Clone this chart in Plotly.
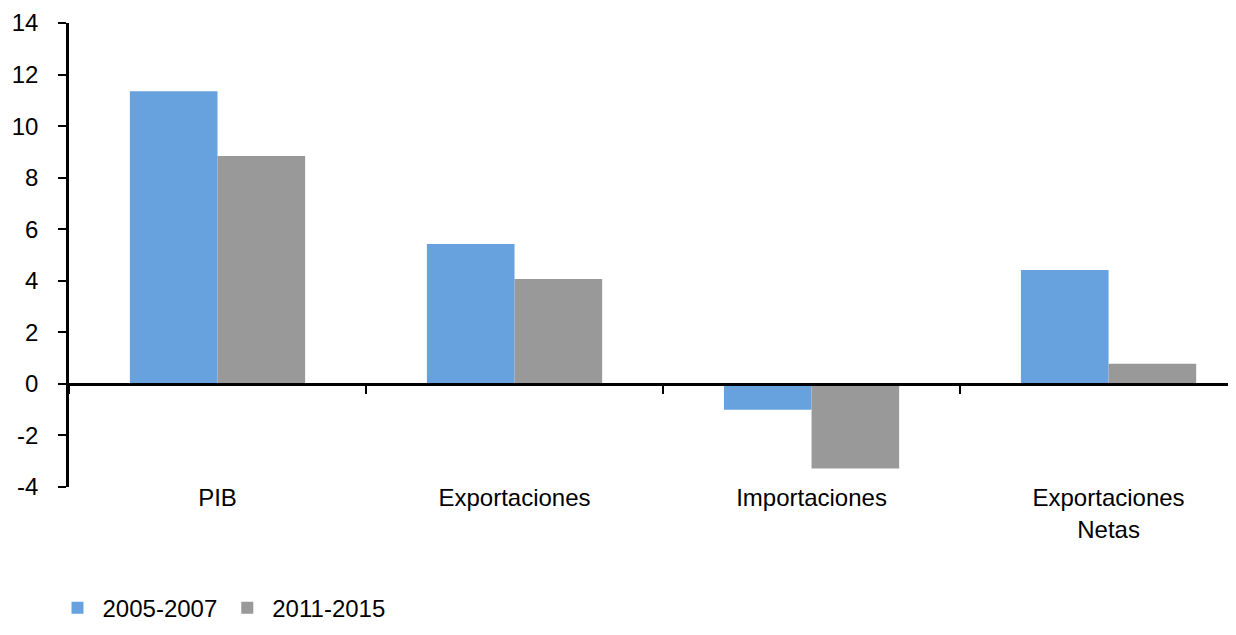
import plotly.graph_objects as go

categories = ["PIB", "Exportaciones", "Importaciones", "Exportaciones<br>Netas"]
series_names = ["2005-2007", "2011-2015"]
values_2005_2007 = [11.35, 5.43, -1.0, 4.42]
values_2011_2015 = [8.84, 4.07, -3.28, 0.78]
colors = ["#67A2DF", "#999999"]
y_ticks = list(range(-4, 15, 2))
y_tick_text = [str(v) for v in y_ticks]

fig = go.Figure()
for name, vals, col in zip(series_names, [values_2005_2007, values_2011_2015], colors):
    fig.add_trace(go.Bar(x=categories, y=vals, name=name, marker_color=col,
                         marker_line_width=0))

FONT = "Liberation Sans, Arial, sans-serif"
fig.update_layout(
    width=1236, height=635,
    margin=dict(l=61, r=0, t=15, b=156, autoexpand=False),
    paper_bgcolor="white", plot_bgcolor="white",
    font=dict(family=FONT, size=24, color="black"),
    barmode="group", bargap=0.41, bargroupgap=0,
    showlegend=True,
    legend=dict(orientation="h", xref="container", yref="container",
                x=0.036, y=0.055, xanchor="left", yanchor="middle",
                font=dict(size=24), itemwidth=40),
)
fig.update_xaxes(type="category", range=[-0.5, 3.456],
                 anchor="free", position=4/18, automargin=False,
                 showline=True, linecolor="black", linewidth=2.5,
                 tickson="boundaries", ticks="outside", ticklen=8,
                 tickcolor="black", tickwidth=1.5,
                 ticklabelstandoff=92, showgrid=False, zeroline=False)
fig.update_yaxes(range=[-4, 14], tickvals=y_ticks, ticktext=y_tick_text,
                 automargin=False,
                 showline=True, linecolor="black", linewidth=2.5,
                 ticks="outside", ticklen=8, tickcolor="black", tickwidth=1.5,
                 ticklabelstandoff=15,
                 showgrid=False, zeroline=False)

fig.write_html("out.html")
